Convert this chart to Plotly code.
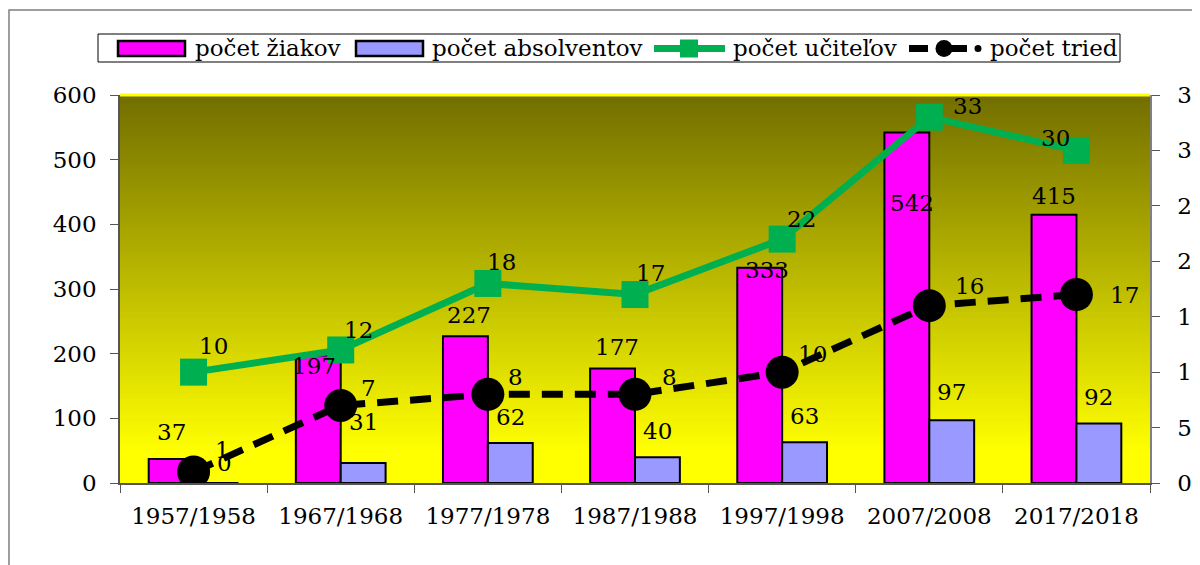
import plotly.graph_objects as go

# ---------------- data ----------------
categories = ["1957/1958", "1967/1968", "1977/1978", "1987/1988",
              "1997/1998", "2007/2008", "2017/2018"]
ziaci = [37, 197, 227, 177, 333, 542, 415]          # počet žiakov (left axis)
absolventi = [0, 31, 62, 40, 63, 97, 92]             # počet absolventov (left axis)
ucitelia = [10, 12, 18, 17, 22, 33, 30]              # počet učiteľov (right axis)
triedy = [1, 7, 8, 8, 10, 16, 17]                    # počet tried (right axis)
left_ticks = [0, 100, 200, 300, 400, 500, 600]
right_ticks = [0, 5, 10, 15, 20, 25, 30, 35]
names = ["počet žiakov", "počet absolventov", "počet učiteľov", "počet tried"]

# label offsets in pixels (dx, dy; dy positive = downwards)
ziaci_dx = [0, -4, 4, 4, 7, 5, 0]
ziaci_dy = [-27, 10, -21, -22, 2, 70, -19]
absol_dx = [8, 0, 0, 0, 0, 0, 0]
absol_dy = [-20, -41, -26, -26, -26, -28, -27]
ucit_dx = [20, 18, 14, 15, 19, 38, -21]
ucit_dy = [-26, -20, -21, -22, -20, -11, -12]
tried_dx = [29, 28, 28, 34, 30, 40, 48]
tried_dy = [-22, -17, -17, -17, -18, -20, 0]

FONT = "DejaVu Serif"
FS = 23
MAGENTA = "#ff00ff"
LAVENDER = "#9999ff"
GREEN = "#00b050"

# plot area in page pixels (page has an 8px body margin)
PL, PR, PT, PB = 120, 1150, 95, 483
OFF = 8


def px(x):
    return (x - PL) / (PR - PL)


def py(y):
    return (PB - y) / (PB - PT)


fig = go.Figure()
fig.add_trace(go.Bar(x=categories, y=ziaci, name=names[0],
                     marker=dict(color=MAGENTA, line=dict(color="black", width=2))))
fig.add_trace(go.Bar(x=categories, y=absolventi, name=names[1],
                     marker=dict(color=LAVENDER, line=dict(color="black", width=2))))
fig.add_trace(go.Scatter(x=categories, y=ucitelia, name=names[2], yaxis="y2",
                         mode="lines+markers",
                         line=dict(color=GREEN, width=7),
                         marker=dict(symbol="square", size=27, color=GREEN)))
fig.add_trace(go.Scatter(x=categories, y=triedy, name=names[3], yaxis="y2",
                         mode="lines+markers",
                         line=dict(color="black", width=7, dash="21px,12px"),
                         marker=dict(symbol="circle", size=33, color="black")))

annotations = []
half = 22.5
for i, c in enumerate(categories):
    annotations.append(dict(x=c, y=ziaci[i], xref="x", yref="y", text=str(ziaci[i]),
                            showarrow=False, xshift=-half + ziaci_dx[i], yshift=-ziaci_dy[i],
                            yanchor="middle", xanchor="center"))
    annotations.append(dict(x=c, y=absolventi[i], xref="x", yref="y", text=str(absolventi[i]),
                            showarrow=False, xshift=half + absol_dx[i], yshift=-absol_dy[i],
                            yanchor="middle", xanchor="center"))
    annotations.append(dict(x=c, y=ucitelia[i], xref="x", yref="y2", text=str(ucitelia[i]),
                            showarrow=False, xshift=ucit_dx[i], yshift=-ucit_dy[i],
                            yanchor="middle", xanchor="center"))
    annotations.append(dict(x=c, y=triedy[i], xref="x", yref="y2", text=str(triedy[i]),
                            showarrow=False, xshift=tried_dx[i], yshift=-tried_dy[i],
                            yanchor="middle", xanchor="center"))

# gradient background of plot area (olive at top -> yellow at bottom)
shapes = []
N = 120
top = (0x72, 0x6e, 0x00)
bot = (0xff, 0xff, 0x00)
for k in range(N):
    y0 = k / N
    y1 = (k + 1) / N
    t = 1 - (y0 + y1) / 2  # 0 at top, 1 at bottom
    f = min(1.0, t / 0.92)
    col = tuple(int(round(top[j] + (bot[j] - top[j]) * f)) for j in range(3))
    shapes.append(dict(type="rect", xref="paper", yref="paper", x0=0, x1=1,
                       y0=y0, y1=y1 + 0.002, fillcolor="rgb(%d,%d,%d)" % col,
                       line=dict(width=0), layer="below"))
# yellow top edge of plot area
shapes.append(dict(type="line", xref="paper", yref="paper", x0=0, x1=1, y0=1, y1=1,
                   line=dict(color="#ffff00", width=3), layer="below"))
# outer chart frame (left & top edges visible)
shapes.append(dict(type="path", xref="paper", yref="paper",
                   path="M %f,%f L %f,%f L %f,%f" % (px(9), py(580), px(9), py(10), px(1220), py(10)),
                   line=dict(color="#7f7f7f", width=1.5)))

# ---------------- legend (drawn) ----------------
LY = 48.5


def rect(x0, y0, x1, y1, fill, lc="black", lw=1):
    return dict(type="rect", xref="paper", yref="paper", x0=px(x0), x1=px(x1),
                y0=py(y1), y1=py(y0), fillcolor=fill, line=dict(color=lc, width=lw))


def seg(x0, x1, y, color, w):
    return dict(type="line", xref="paper", yref="paper", x0=px(x0), x1=px(x1),
                y0=py(y), y1=py(y), line=dict(color=color, width=w))


def circ(cx, cy, d, color):
    return dict(type="circle", xref="paper", yref="paper", x0=px(cx - d / 2), x1=px(cx + d / 2),
                y0=py(cy + d / 2), y1=py(cy - d / 2), fillcolor=color, line=dict(width=0))


shapes.append(rect(98, 34, 1120, 62, "white", "black", 1))
shapes.append(rect(118, 41, 185, 56, MAGENTA, "black", 2.5))
shapes.append(rect(356, 41, 423, 56, LAVENDER, "black", 2.5))
shapes.append(seg(654, 725, LY, GREEN, 7))
shapes.append(rect(680, LY - 9, 698, LY + 9, GREEN, GREEN, 0))
shapes.append(seg(909, 928, LY, "black", 7))
shapes.append(circ(944, LY, 17, "black"))
shapes.append(seg(944, 967, LY, "black", 7))
shapes.append(circ(978, LY, 7, "black"))

legend_text_x = [193, 430, 731, 988]
for name, lx in zip(names, legend_text_x):
    annotations.append(dict(x=px(lx), y=py(LY), xref="paper", yref="paper", text=name,
                            showarrow=False, xanchor="left", yanchor="middle"))

for a in annotations:
    a["font"] = dict(family=FONT, size=FS, color="black")

fig.update_layout(
    width=1200, height=565,
    margin=dict(l=PL - OFF, r=1200 - (PR - OFF), t=PT - OFF, b=565 - (PB - OFF),
                autoexpand=False),
    paper_bgcolor="white", plot_bgcolor="#ffff00",
    font=dict(family=FONT, size=FS, color="black"),
    barmode="group", bargap=0.39, bargroupgap=0,
    showlegend=False,
    xaxis=dict(type="category", showline=True, linecolor="#555555", linewidth=1.5,
               ticks="outside", ticklen=8, tickcolor="#555555", tickson="boundaries",
               showgrid=False, ticklabelstandoff=12, automargin=False,
               tickfont=dict(family=FONT, size=FS)),
    yaxis=dict(range=[0, 600], tickvals=left_ticks, showline=True, linecolor="#555555",
               linewidth=1.5, ticks="outside", ticklen=8, tickcolor="#555555",
               showgrid=False, zeroline=False, ticklabelstandoff=9, automargin=False,
               tickfont=dict(family=FONT, size=FS)),
    yaxis2=dict(range=[0, 35], tickvals=right_ticks, overlaying="y", side="right",
                showline=True, linecolor="#808080", linewidth=1.5, ticks="outside",
                ticklen=8, tickcolor="#555555", showgrid=False, zeroline=False,
                ticklabelstandoff=13, automargin=False,
                tickfont=dict(family=FONT, size=FS)),
    annotations=annotations,
    shapes=shapes,
)

fig.write_html("out.html")
